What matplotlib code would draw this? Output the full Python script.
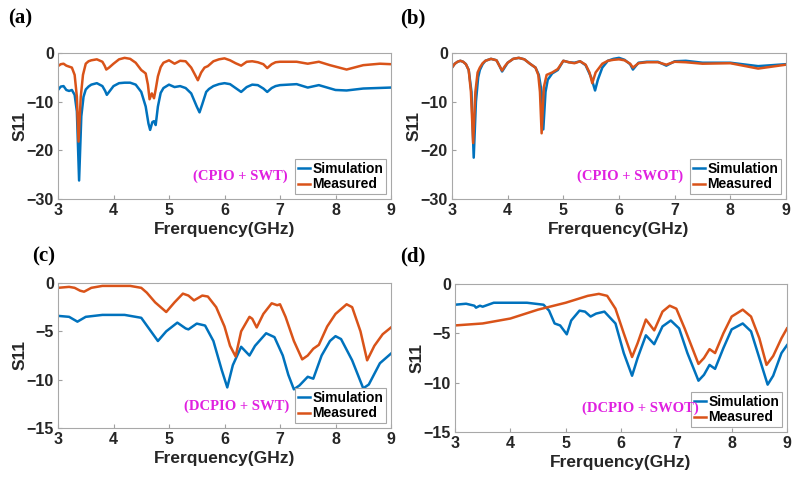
import numpy as np
import matplotlib
matplotlib.use("Agg")
import matplotlib.pyplot as plt

plt.rcParams["font.family"] = ["Liberation Sans", "DejaVu Sans"]

# ---- (a) CPIO + SWT ----
a_sim_f = [3.0, 3.05, 3.1, 3.15, 3.2, 3.25, 3.3, 3.34, 3.38, 3.42, 3.46, 3.5, 3.55, 3.6, 3.7, 3.8, 3.85, 3.88, 3.92,
           4.0, 4.1, 4.2, 4.3, 4.4, 4.5, 4.58, 4.63, 4.66, 4.7, 4.73, 4.76, 4.8, 4.85, 4.9, 5.0, 5.1, 5.2, 5.3, 5.4,
           5.5, 5.55, 5.6, 5.67, 5.72, 5.8, 5.9, 6.0, 6.1, 6.2, 6.3, 6.4, 6.5, 6.6, 6.7, 6.77, 6.85, 6.92, 7.0, 7.3,
           7.5, 7.7, 8.0, 8.2, 8.5, 9.0]
a_sim_s = [-7.6, -6.9, -6.8, -7.6, -7.8, -7.6, -8.6, -12.0, -26.2, -13.0, -9.0, -7.5, -6.9, -6.5, -6.2, -6.8, -7.8,
           -8.6, -8.0, -6.8, -6.2, -6.1, -6.1, -6.5, -8.0, -11.0, -14.5, -15.8, -14.2, -14.0, -14.8, -11.0, -8.2, -7.2,
           -6.5, -7.0, -6.8, -7.2, -8.3, -11.0, -12.2, -10.5, -8.0, -7.4, -6.8, -6.4, -6.2, -6.4, -7.2, -8.0, -7.0,
           -6.5, -6.6, -7.3, -8.0, -7.2, -6.8, -6.6, -6.4, -7.1, -6.6, -7.6, -7.7, -7.3, -7.1]
a_mea_f = [3.0, 3.05, 3.1, 3.15, 3.2, 3.25, 3.3, 3.34, 3.37, 3.41, 3.45, 3.5, 3.55, 3.6, 3.7, 3.8, 3.84, 3.87, 3.92,
           4.0, 4.1, 4.2, 4.3, 4.4, 4.5, 4.58, 4.62, 4.65, 4.69, 4.73, 4.76, 4.8, 4.85, 4.9, 5.0, 5.1, 5.2, 5.3, 5.4,
           5.47, 5.52, 5.58, 5.64, 5.7, 5.8, 5.9, 6.0, 6.1, 6.2, 6.3, 6.4, 6.5, 6.6, 6.7, 6.77, 6.85, 6.92, 7.0, 7.3,
           7.5, 7.7, 7.9, 8.2, 8.5, 8.8, 9.0]
a_mea_s = [-2.7, -2.3, -2.2, -2.6, -2.8, -3.0, -4.5, -9.0, -18.2, -9.0, -4.5, -2.2, -1.7, -1.5, -1.3, -1.8, -2.6, -3.4,
           -3.0, -2.2, -1.3, -1.0, -1.2, -2.0, -3.5, -4.2, -6.5, -9.5, -8.3, -9.3, -7.5, -4.8, -2.9, -2.0, -1.5, -2.2,
           -1.6, -1.7, -3.0, -4.5, -5.6, -4.0, -3.0, -2.7, -1.7, -1.3, -1.1, -1.5, -2.1, -2.6, -1.8, -1.7, -1.9, -2.3,
           -3.1, -2.3, -1.9, -1.8, -1.8, -2.2, -1.8, -2.5, -3.4, -2.5, -2.2, -2.3]

# ---- (b) CPIO + SWOT ----
b_sim_f = [3.0, 3.05, 3.1, 3.15, 3.2, 3.25, 3.3, 3.35, 3.39, 3.43, 3.47, 3.5, 3.55, 3.6, 3.7, 3.8, 3.86, 3.9, 3.95,
           4.0, 4.1, 4.2, 4.3, 4.4, 4.5, 4.56, 4.61, 4.64, 4.68, 4.72, 4.8, 4.9, 5.0, 5.1, 5.2, 5.3, 5.4, 5.5, 5.57,
           5.62, 5.7, 5.8, 5.9, 6.0, 6.1, 6.2, 6.25, 6.35, 6.5, 6.7, 6.85, 7.0, 7.2, 7.5, 8.0, 8.5, 9.0]
b_sim_s = [-3.0, -2.2, -1.8, -1.6, -1.8, -2.3, -3.5, -8.0, -21.5, -10.0, -5.0, -3.5, -2.3, -1.6, -1.2, -1.5, -2.8,
           -3.8, -2.9, -2.0, -1.2, -1.0, -1.3, -2.2, -3.0, -4.5, -8.0, -15.7, -8.0, -5.5, -4.2, -3.5, -1.6, -1.9,
           -2.0, -1.7, -2.5, -5.0, -7.7, -5.5, -3.0, -1.6, -1.2, -1.0, -1.4, -2.3, -3.4, -2.0, -1.8, -1.8, -2.6, -1.7,
           -1.6, -2.0, -2.0, -2.7, -2.3]
b_mea_f = [3.0, 3.05, 3.1, 3.15, 3.2, 3.25, 3.3, 3.34, 3.38, 3.42, 3.46, 3.5, 3.55, 3.6, 3.7, 3.8, 3.86, 3.9, 3.95,
           4.0, 4.1, 4.2, 4.3, 4.4, 4.5, 4.55, 4.58, 4.61, 4.65, 4.7, 4.8, 4.9, 5.0, 5.1, 5.2, 5.3, 5.4, 5.47, 5.52,
           5.58, 5.7, 5.8, 5.9, 6.0, 6.1, 6.2, 6.25, 6.35, 6.5, 6.7, 6.85, 7.0, 7.2, 7.5, 8.0, 8.5, 9.0]
b_mea_s = [-3.0, -2.2, -1.8, -1.6, -1.8, -2.3, -3.5, -8.0, -18.5, -8.0, -4.0, -3.0, -2.1, -1.6, -1.2, -1.5, -2.8,
           -3.6, -2.7, -2.0, -1.2, -1.0, -1.3, -2.2, -3.0, -4.5, -8.0, -16.5, -7.0, -4.5, -4.0, -3.3, -1.6, -1.9, -2.1,
           -1.7, -2.4, -4.0, -6.2, -4.0, -2.2, -1.6, -1.4, -1.3, -1.5, -2.2, -3.0, -2.1, -1.9, -1.9, -2.4, -1.8, -1.9,
           -2.2, -2.1, -3.2, -2.4]

# ---- (c) DCPIO + SWT ----
c_sim_f = [3.0, 3.2, 3.35, 3.5, 3.8, 4.2, 4.5, 4.65, 4.8, 4.95, 5.15, 5.3, 5.35, 5.5, 5.65, 5.8, 5.95, 6.05, 6.15,
           6.3, 6.45, 6.55, 6.75, 6.9, 7.05, 7.15, 7.25, 7.35, 7.5, 7.6, 7.75, 7.9, 8.0, 8.1, 8.3, 8.5, 8.6, 8.8, 9.0]
c_sim_s = [-3.4, -3.5, -4.0, -3.5, -3.3, -3.3, -3.6, -4.8, -6.0, -5.0, -4.1, -4.7, -4.8, -4.2, -4.4, -6.0, -9.0,
           -10.8, -8.5, -6.6, -7.5, -6.5, -5.2, -5.6, -7.5, -9.5, -11.0, -10.6, -9.7, -9.9, -7.5, -6.0, -5.5, -5.8,
           -8.0, -10.9, -10.5, -8.3, -7.3]
c_mea_f = [3.0, 3.2, 3.3, 3.4, 3.47, 3.6, 3.8, 4.0, 4.3, 4.5, 4.6, 4.75, 4.95, 5.1, 5.25, 5.35, 5.45, 5.6, 5.7, 5.85,
           6.0, 6.1, 6.2, 6.3, 6.45, 6.5, 6.58, 6.7, 6.85, 6.95, 7.0, 7.1, 7.25, 7.4, 7.5, 7.6, 7.7, 7.85, 8.0, 8.2,
           8.3, 8.45, 8.57, 8.7, 8.85, 9.0]
c_mea_s = [-0.5, -0.4, -0.5, -0.8, -0.9, -0.5, -0.3, -0.3, -0.3, -0.5, -1.0, -2.0, -3.0, -2.0, -1.1, -1.3, -1.8, -1.3,
           -1.4, -2.5, -4.5, -6.5, -7.6, -5.0, -3.5, -3.7, -4.6, -3.2, -2.1, -2.3, -2.2, -3.5, -6.0, -7.9, -7.5, -6.8,
           -6.4, -4.5, -3.2, -2.2, -2.5, -5.0, -8.0, -6.5, -5.3, -4.6]

# ---- (d) DCPIO + SWOT ----
d_sim_f = [3.0, 3.2, 3.35, 3.38, 3.45, 3.5, 3.7, 4.0, 4.3, 4.6, 4.7, 4.8, 4.9, 5.02, 5.1, 5.25, 5.35, 5.45, 5.55, 5.7,
           5.9, 6.05, 6.2, 6.3, 6.45, 6.6, 6.75, 6.9, 7.05, 7.2, 7.4, 7.5, 7.6, 7.7, 7.85, 8.0, 8.2, 8.35, 8.5, 8.65,
           8.75, 8.9, 9.0]
d_sim_s = [-2.1, -2.0, -2.2, -2.4, -2.2, -2.3, -1.9, -1.9, -1.9, -2.1, -2.7, -4.0, -4.2, -5.1, -3.7, -2.7, -2.8, -3.3,
           -3.0, -2.8, -4.0, -7.0, -9.3, -7.5, -5.2, -6.1, -4.3, -3.7, -4.5, -7.0, -9.8, -9.2, -8.2, -8.6, -6.5, -4.6,
           -4.0, -4.8, -7.5, -10.2, -9.3, -7.0, -6.2]
d_mea_f = [3.0, 3.5, 4.0, 4.5, 5.0, 5.4, 5.6, 5.75, 5.9, 6.05, 6.2, 6.3, 6.45, 6.6, 6.75, 6.88, 7.0, 7.15, 7.4, 7.5,
           7.6, 7.7, 7.85, 8.0, 8.2, 8.35, 8.5, 8.63, 8.75, 8.9, 9.0]
d_mea_s = [-4.2, -4.0, -3.5, -2.6, -1.9, -1.2, -1.0, -1.2, -2.5, -5.0, -7.4, -6.0, -3.6, -4.7, -2.8, -2.2, -2.5, -4.5,
           -8.1, -7.5, -6.6, -7.0, -5.0, -3.3, -2.6, -3.3, -5.5, -8.2, -7.3, -5.5, -4.5]

panel_tags = ["(a)", "(b)", "(c)", "(d)"]
panel_notes = ["(CPIO + SWT)", "(CPIO + SWOT)", "(DCPIO + SWT)", "(DCPIO + SWOT)"]

BLUE = "#0072BD"
ORANGE = "#D95319"

fig = plt.figure(figsize=(7.98, 4.82), dpi=100)

# axes boxes in pixels: left, top, right, bottom
boxes = [(58, 53, 391, 199), (452, 53, 786, 199), (58, 283, 391, 428), (455, 284, 787, 432)]
data = [(a_sim_f, a_sim_s, a_mea_f, a_mea_s), (b_sim_f, b_sim_s, b_mea_f, b_mea_s),
        (c_sim_f, c_sim_s, c_mea_f, c_mea_s), (d_sim_f, d_sim_s, d_mea_f, d_mea_s)]
ylims = [(-30, 0), (-30, 0), (-15, 0), (-15, 0)]
yticks = [[-30, -20, -10, 0], [-30, -20, -10, 0], [-15, -10, -5, 0], [-15, -10, -5, 0]]
note_pos = [(6.28, -25.3), (6.2, -25.3), (6.22, -12.8), (6.35, -12.6)]
tag_pos = [(8, 18), (400, 18), (32, 256), (400, 256)]

W, H = 798, 482
for i in range(4):
    l, t, r, b = boxes[i]
    ax = fig.add_axes([l / W, 1 - b / H, (r - l) / W, (b - t) / H])
    sf, ss, mf, ms = data[i]
    ax.plot(sf, ss, color=BLUE, lw=1.8, label="Simulation")
    ax.plot(mf, ms, color=ORANGE, lw=1.8, label="Measured")
    ax.set_xlim(3, 9)
    ax.set_ylim(*ylims[i])
    ax.set_xticks(range(3, 10))
    ax.set_yticks(yticks[i])
    ax.tick_params(direction="in", length=3, color="#a0a0a0", labelsize=11.5, labelcolor="#262626", pad=3)
    for lab in ax.get_xticklabels() + ax.get_yticklabels():
        lab.set_fontweight("bold")
    for sp in ax.spines.values():
        sp.set_color("#a8a8a8")
        sp.set_linewidth(0.8)
    ax.set_xlabel("Frerquency(GHz)", fontsize=12.5, fontweight="bold", color="#262626", labelpad=3)
    ax.set_ylabel("S11", fontsize=12.5, fontweight="bold", color="#262626", labelpad=-1)
    leg = ax.legend(loc="lower right", prop={"weight": "bold", "size": 10},
                    handlelength=0.9, handletextpad=0.15, borderpad=0.2, labelspacing=0.1,
                    borderaxespad=0.35, fancybox=False, framealpha=1)
    leg.get_frame().set_edgecolor("#a8a8a8")
    leg.get_frame().set_linewidth(0.8)
    ax.text(note_pos[i][0], note_pos[i][1], panel_notes[i], color="#E020E0", fontsize=10.5,
            fontweight="bold", family="Liberation Serif", ha="center", va="center", zorder=10)
    fig.text(tag_pos[i][0] / W, 1 - tag_pos[i][1] / H, panel_tags[i], fontsize=15, fontweight="bold",
             family="Liberation Serif", ha="left", va="center")

fig.savefig("out.png", dpi=100)
